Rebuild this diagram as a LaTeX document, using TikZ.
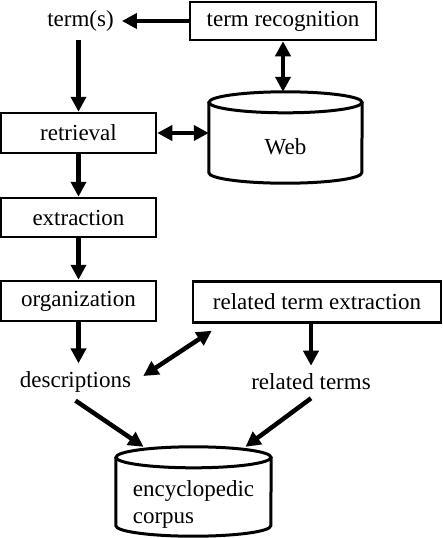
\documentclass[tikz,border=0pt]{standalone}
\usepackage{fontspec}
\setmainfont{Liberation Serif}
\usetikzlibrary{arrows.meta,calc}
\begin{document}
\begin{tikzpicture}[x=1pt,y=-1pt,
  every node/.style={font=\fontsize{23}{27}\selectfont},
  procbox/.style={draw, line width=2.5pt, inner sep=0pt, align=center},
  plain/.style={inner sep=8pt},
  storebox/.style={inner sep=0pt},
  storeline/.style={line width=3pt},
  flow/.style={line width=4.5pt, -{Triangle[length=15pt,width=15pt]}},
  both/.style={line width=4.5pt, {Triangle[length=15pt,width=15pt]}-{Triangle[length=15pt,width=15pt]}},
]
\useasboundingbox (0,0) rectangle (442,538);

\node[plain] (terms) at (80.5,21) {term(s)};
\node[procbox, minimum width=186, minimum height=38] (recog) at (283,21) {term recognition};
\node[procbox, minimum width=155, minimum height=40] (retr) at (78.5,133) {retrieval};
\node[storebox, minimum width=153, minimum height=91] (web) at (285.5,137.5) {};
\draw[storeline] ([yshift=-10.5pt]web.north west) -- ([yshift=10.5pt]web.south west)
  arc[start angle=180, end angle=360, x radius=76.5pt, y radius=10.5pt]
  -- ([yshift=-10.5pt]web.north east);
\draw[storeline] ([yshift=-10.5pt]web.north) ellipse[x radius=76.5pt, y radius=10.5pt];
\node[inner sep=0pt] (webtxt) at ($(web.center)+(0,9)$) {Web};
\node[procbox, minimum width=155, minimum height=39] (extr) at (78.5,217.5) {extraction};
\node[procbox, minimum width=155, minimum height=40] (org) at (78.5,301) {organization};
\node[procbox, minimum width=248, minimum height=41] (rte) at (317,302) {related term extraction};
\node[plain] (desc) at (75.5,382) {descriptions};
\node[plain] (relt) at (311,382) {related terms};
\node[storebox, minimum width=155, minimum height=89] (corp) at (193.5,491.5) {};
\draw[storeline] ([yshift=-10.5pt]corp.north west) -- ([yshift=10.5pt]corp.south west)
  arc[start angle=180, end angle=360, x radius=77.5pt, y radius=10.5pt]
  -- ([yshift=-10.5pt]corp.north east);
\draw[storeline] ([yshift=-10.5pt]corp.north) ellipse[x radius=77.5pt, y radius=10.5pt];
\node[inner sep=0pt, align=left] (corptxt) at ($(corp.center)+(0,13)$) {encyclopedic\\corpus};

\draw[flow] (recog.west) -- (terms.east);
\draw[flow] (terms.south -| retr.north) -- (retr.north);
\draw[both] (recog.south) -- (recog.south |- web.north);
\draw[both] (retr.east) -- (retr.east -| web.west);
\draw[flow] (retr.south) -- (extr.north);
\draw[flow] (extr.south) -- (org.north);
\draw[flow] (org.south) -- (org.south |- desc.north);
\draw[flow] (rte.south -| relt.north) -- (relt.north);
\draw[both] ($(desc.east)+(4,-6)$) -- ($(rte.south west)+(20,7)$);
\draw[flow] (desc.south) -- ($(corp.north)+(-50,0)$);
\draw[flow] (relt.south) -- ($(corp.north)+(52,0)$);
\end{tikzpicture}
\end{document}
